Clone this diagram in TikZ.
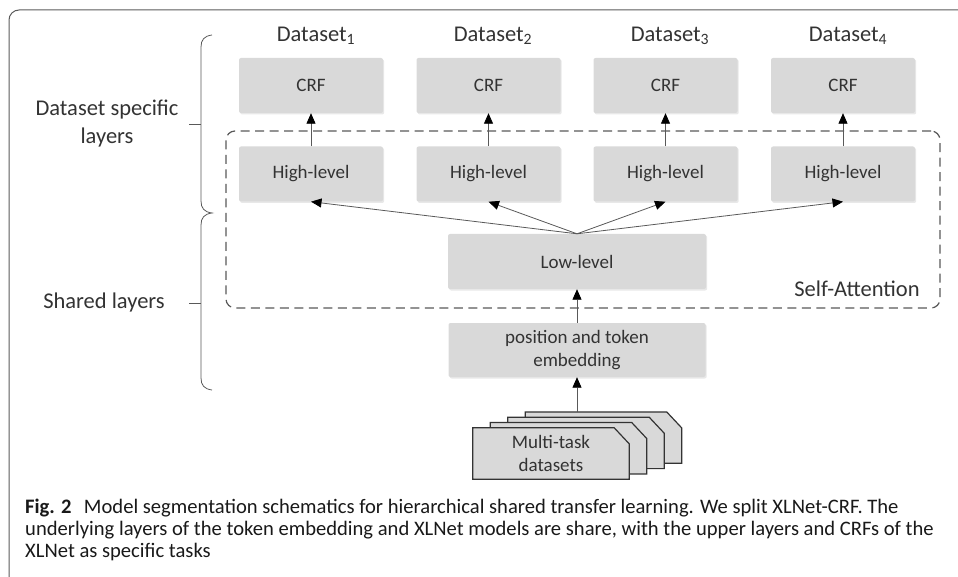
\documentclass[tikz,border=0pt]{standalone}
\usepackage{fontspec}
\setmainfont{Carlito}
\usetikzlibrary{arrows.meta,shadows}
\definecolor{boxfill}{HTML}{D9D9D9}
\definecolor{txt}{HTML}{333333}
\definecolor{linec}{HTML}{595959}
\definecolor{framec}{HTML}{5A5A5A}
\begin{document}
\begin{tikzpicture}[x=1pt,y=-1pt,
  layerbox/.style={rectangle, rounded corners=2pt, fill=boxfill, minimum width=144pt, minimum height=55pt,
    text=txt, font=\fontsize{19}{23}\selectfont, align=center, inner sep=0pt,
    drop shadow={shadow xshift=1.2pt, shadow yshift=-1.5pt, opacity=0.18}},
  biglbl/.style={text=txt, font=\fontsize{22.5}{28}\selectfont, align=center, inner sep=0pt},
  arr/.style={draw=linec, line width=0.8pt, -{Triangle[length=10.5pt,width=9pt,color=black]}},
  sabox/.style={draw=linec, line width=1.2pt, dash pattern=on 9pt off 5.5pt, rounded corners=9pt},
  stackbox/.style={minimum width=156pt, minimum height=51pt, inner sep=0pt},
  stackline/.style={draw=black!80, line width=1.2pt, fill=boxfill},
  bracec/.style={draw=linec, line width=0.8pt}
]
\useasboundingbox (0,0) rectangle (958,577);
% outer frame
\draw[framec, line width=1pt, rounded corners=10pt] (9,577) -- (9,10) -- (958,10);

% dataset labels
\node[biglbl] (d1) at (316,36) {Dataset\textsubscript{1}};
\node[biglbl] (d2) at (493,36) {Dataset\textsubscript{2}};
\node[biglbl] (d3) at (670,36) {Dataset\textsubscript{3}};
\node[biglbl] (d4) at (848,36) {Dataset\textsubscript{4}};

% dashed self-attention region
\node[sabox, minimum width=714pt, minimum height=177pt] (sa) at (583,219.5) {};
\node[biglbl] (satext) at (857,289) {Self-Attention};

% boxes
\node[layerbox] (crf1) at (311,85.5) {CRF};
\node[layerbox] (crf2) at (488.5,85.5) {CRF};
\node[layerbox] (crf3) at (665.5,85.5) {CRF};
\node[layerbox] (crf4) at (843,85.5) {CRF};
\node[layerbox] (hl1) at (311,174) {High-level};
\node[layerbox] (hl2) at (488.5,174) {High-level};
\node[layerbox] (hl3) at (665.5,174) {High-level};
\node[layerbox] (hl4) at (843,174) {High-level};
\node[layerbox, minimum width=258pt] (low) at (577,261.5) {Low-level};
\node[layerbox, minimum width=257pt, minimum height=54pt] (pos) at (577,350) {position and token\\embedding};

% stacked datasets
\foreach \k in {3,2,1,0} {
  \node[stackbox] (s\k) at ({551+17.5*\k},{453.5-5.3*\k}) {};
  \draw[stackline] (s\k.south west) -- (s\k.north west) -- ([xshift=-15pt]s\k.north east)
     -- ([yshift=-16pt]s\k.north east) -- (s\k.south east) -- cycle;
}
\node[text=txt, font=\fontsize{19}{23}\selectfont, align=center, inner sep=0pt] (mt) at (s0) {Multi-task\\datasets};

% arrows
\foreach \i in {1,2,3,4} {
  \draw[arr] (hl\i.north) -- (crf\i.south);
  \draw[arr] (low.north) -- (hl\i.south);
}
\draw[arr] (pos.north) -- (low.south);
\draw[arr] (s3.north -| pos.south) -- (pos.south);

% side labels and braces
\node[biglbl] (spec) at (107,124) {Dataset specific\\layers};
\node[biglbl] (shared) at (104,303) {Shared layers};
\draw[bracec] (212,35) .. controls (204,36) and (201,40) .. (201,47) -- (201,201)
   .. controls (201,208) and (204,212) .. (212,213)
   .. controls (204,214) and (201,218) .. (201,225) -- (201,378)
   .. controls (201,385) and (204,389) .. (212,390);
\draw[bracec] (189,124) -- (201,124);
\draw[bracec] (189,303) -- (201,303);

% caption
\node[anchor=north west, align=left, inner sep=0pt, text=black!90, font=\fontsize{20.6}{22}\selectfont] (cap) at (25,499)
 {\textbf{Fig. 2}\hspace{0.6em}Model segmentation schematics for hierarchical shared transfer learning. We split XLNet-CRF. The\\
  underlying layers of the token embedding and XLNet models are share, with the upper layers and CRFs of the\\
  XLNet as specific tasks};
\end{tikzpicture}
\end{document}
